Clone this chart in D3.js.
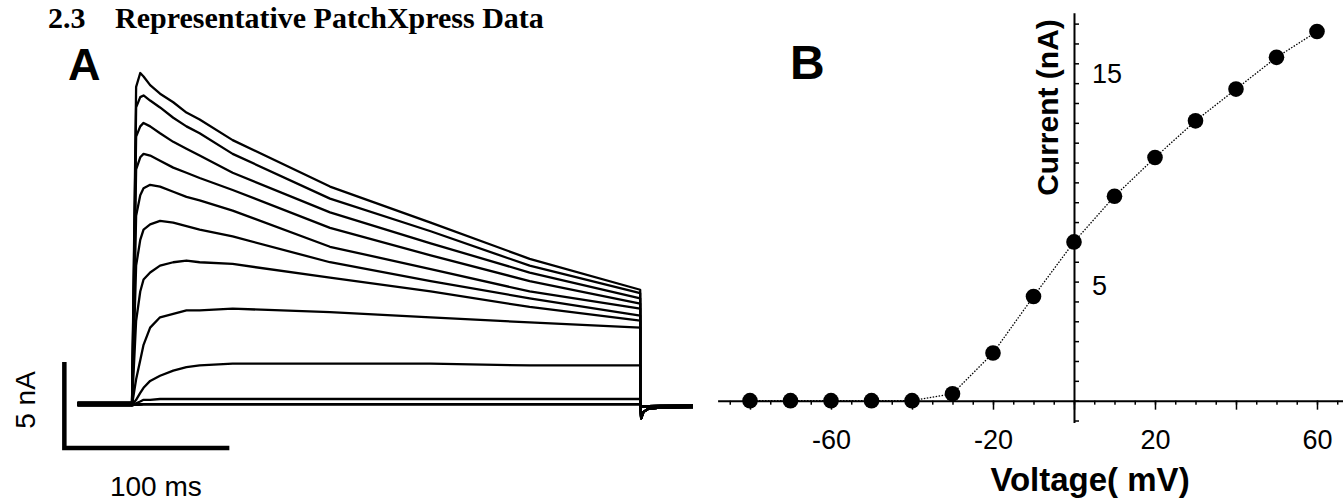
<!DOCTYPE html>
<html>
<head>
<meta charset="utf-8">
<script src="https://d3js.org/d3.v7.min.js"></script>
<style>
  body { margin: 0; background: #fff; }
  text { fill: #000; }
</style>
</head>
<body>
<div id="wrapper"></div>
<script>
// ---- panel A: current sweeps (ms, nA) ----
const sweepTimes = [0, 2.5, 5, 7, 11, 17, 25, 33, 41, 61, 120, 181, 241, 308]
const sweep60  = [0, 18.5, 19.3, 19.1, 18.6, 18.1, 17.6, 17.0, 16.6, 15.4, 12.7, 10.6, 8.5, 6.7]
const sweep50  = [0, 17.3, 17.9, 18.0, 17.7, 17.3, 16.7, 16.2, 15.8, 14.6, 12.0, 10.1, 8.1, 6.5]
const sweep40  = [0, 15.6, 16.2, 16.4, 16.2, 15.8, 15.3, 14.9, 14.5, 13.5, 11.2, 9.4, 7.7, 6.2]
const sweep30  = [0, 13.7, 14.4, 14.6, 14.5, 14.2, 13.8, 13.5, 13.2, 12.5, 10.3, 8.7, 7.2, 5.9]
const sweep20  = [0, 11.0, 12.2, 12.6, 12.8, 12.7, 12.4, 12.1, 11.9, 11.3, 9.2, 7.9, 6.6, 5.6]
const sweep10  = [0, 8.1, 9.6, 10.2, 10.5, 10.7, 10.6, 10.4, 10.2, 9.8, 8.3, 7.2, 6.2, 5.2]
const sweep0   = [0, 4.9, 6.6, 7.3, 7.7, 8.1, 8.3, 8.4, 8.3, 8.2, 7.4, 6.6, 5.7, 4.9]
const sweepM10 = [0, 1.5, 2.6, 3.5, 4.5, 5.1, 5.3, 5.5, 5.5, 5.6, 5.4, 5.1, 4.8, 4.5]
const sweepM20 = [0, 0.3, 0.7, 1.0, 1.4, 1.7, 2.0, 2.2, 2.3, 2.4, 2.4, 2.4, 2.3, 2.3]
const sweepM30 = [0, 0.1, 0.2, 0.3, 0.3, 0.35, 0.35, 0.35, 0.35, 0.35, 0.35, 0.35, 0.35, 0.35]
const sweepRest = [0, 0.02, 0.04, 0.05, 0.05, 0.05, 0.05, 0.05, 0.05, 0.05, 0.05, 0.05, 0.05, 0.05]
const holdTimes = [-33, 0]
const holdCurrentLow = [0, 0]
const holdCurrentHigh = [0.12, 0.12]
const tailTimes = [308, 308.6, 310, 313, 320, 340]
const tailCurrentBig = [0, -0.78, -0.4, -0.22, -0.15, -0.12]
const tailCurrentSmall = [0, -0.1, -0.08, -0.06, -0.05, -0.04]

// ---- panel B: I-V relation ----
const ivVoltage = [-80, -70, -60, -50, -40, -30, -20, -10, 0, 10, 20, 30, 40, 50, 60]
const ivCurrent = [0, 0, 0, 0, 0, 0.35, 2.4, 5.25, 8.0, 10.3, 12.25, 14.1, 15.7, 17.3, 18.6]
const xTickLabels = [-60, -20, 20, 60]
const yTickLabels = [5, 15]

function drawChart() {
  const dim = { width: 1343, height: 502 }

  const svg = d3.select("#wrapper")
    .append("svg")
    .attr("width", dim.width)
    .attr("height", dim.height)
    .style("font-family", "'Liberation Sans', Arial, sans-serif")

  // title
  const serif = "'Liberation Serif', 'Times New Roman', serif"
  svg.append("text")
    .attr("x", 48).attr("y", 28)
    .style("font-family", serif)
    .style("font-weight", "bold")
    .style("font-size", "30px")
    .text("2.3")
  svg.append("text")
    .attr("x", 115).attr("y", 28)
    .style("font-family", serif)
    .style("font-weight", "bold")
    .style("font-size", "30px")
    .text("Representative PatchXpress Data")

  // panel letters
  svg.append("text").attr("x", 68).attr("y", 80)
    .style("font-weight", "bold").style("font-size", "45px").text("A")
  svg.append("text").attr("x", 790).attr("y", 79)
    .style("font-weight", "bold").style("font-size", "48px").text("B")

  // ---------- panel A ----------
  const xA = d3.scaleLinear().domain([0, 100]).range([132, 297])
  const yA = d3.scaleLinear().domain([0, 5]).range([405, 319])

  const sweeps = [sweepRest, sweepRest, sweepRest, sweepRest, sweepRest,
    sweepM30, sweepM20, sweepM10, sweep0, sweep10, sweep20, sweep30, sweep40, sweep50, sweep60]

  const traceLine = d3.line()
    .x(d => xA(d[0]))
    .y(d => yA(d[1]))

  const chartA = svg.append("g")
  sweeps.forEach((s, n) => {
    const tail = n >= 8 ? tailCurrentBig : tailCurrentSmall
    const hold = n % 2 ? holdCurrentHigh : holdCurrentLow
    const pts = holdTimes.map((t, k) => [t, hold[k]])
      .concat(sweepTimes.map((t, k) => [t, s[k]]))
      .concat(tailTimes.map((t, k) => [t, tail[k]]))
    chartA.append("path")
      .attr("d", traceLine(pts))
      .attr("fill", "none")
      .attr("stroke", "#000")
      .attr("stroke-width", 2.3)
      .attr("stroke-linejoin", "round")
  })

  // scale bars: 5 nA and 100 ms
  const barT0 = -41, barI0 = -2.5
  chartA.append("path")
    .attr("d", `M${xA(barT0)},${yA(barI0 + 5)} V${yA(barI0)} H${xA(barT0 + 100)}`)
    .attr("fill", "none")
    .attr("stroke", "#000")
    .attr("stroke-width", 4.5)
    .attr("stroke-linejoin", "miter")

  chartA.append("text")
    .attr("transform", `translate(35,${yA(barI0 + 2.5) - 5}) rotate(-90)`)
    .attr("text-anchor", "middle")
    .style("font-size", "28px")
    .text("5 nA")
  chartA.append("text")
    .attr("x", xA(barT0 + 50) + 9).attr("y", 496)
    .attr("text-anchor", "middle")
    .style("font-size", "28px")
    .text("100 ms")

  // ---------- panel B ----------
  const xB = d3.scaleLinear().domain([-88, 66.3]).range([717.6, 1342.5])
  const yB = d3.scaleLinear().domain([-1.1, 19.55]).range([422.5, 12.7])

  const chartB = svg.append("g")

  // x axis: minor ticks every 5 mV, major every 20 mV
  const xMinor = chartB.append("g")
    .attr("transform", `translate(0,${yB(0)})`)
    .call(d3.axisBottom(xB)
      .tickValues(d3.range(-85, 66, 5))
      .tickSize(4).tickSizeOuter(0)
      .tickFormat(""))
  xMinor.select(".domain").attr("stroke-width", 2)
  xMinor.selectAll(".tick line").attr("stroke-width", 1.5)

  const xMajor = chartB.append("g")
    .attr("transform", `translate(0,${yB(0)})`)
    .call(d3.axisBottom(xB)
      .tickValues(d3.range(-80, 61, 20))
      .tickSize(9).tickPadding(20)
      .tickFormat(d => xTickLabels.includes(d) ? String(d) : ""))
  xMajor.select(".domain").remove()
  xMajor.selectAll(".tick line").attr("stroke-width", 1.5)
  xMajor.selectAll(".tick text")
    .attr("font-family", null)
    .attr("font-size", null)
    .style("font-size", "27px")
    .attr("fill", "#000")

  // y axis with ticks every 1 nA
  const yAxis = chartB.append("g")
    .attr("transform", `translate(${xB(0)},0)`)
    .call(d3.axisRight(yB)
      .tickValues(d3.range(-1, 20, 1))
      .tickSize(5).tickSizeOuter(0).tickPadding(13)
      .tickFormat(d => yTickLabels.includes(d) ? String(d) : ""))
  yAxis.select(".domain").attr("stroke-width", 2)
  yAxis.selectAll(".tick line").attr("stroke-width", 1.5)
  yAxis.selectAll(".tick text")
    .attr("font-family", null)
    .attr("font-size", null)
    .attr("dy", d => d > 10 ? "-0.75em" : "-0.25em")
    .style("font-size", "27px")
    .attr("fill", "#000")

  // dotted connecting line
  const ivLine = d3.line()
    .x((d, k) => xB(ivVoltage[k]))
    .y(d => yB(d))
  chartB.append("path")
    .attr("d", ivLine(ivCurrent))
    .attr("fill", "none")
    .attr("stroke", "#000")
    .attr("stroke-width", 1.3)
    .attr("stroke-dasharray", "1.5,1.5")

  // data points
  chartB.selectAll("circle")
    .data(ivCurrent)
    .join("circle")
    .attr("cx", (d, k) => xB(ivVoltage[k]))
    .attr("cy", d => yB(d))
    .attr("r", 7.8)
    .attr("fill", "#000")

  // axis titles
  chartB.append("text")
    .attr("x", 1090).attr("y", 491)
    .attr("text-anchor", "middle")
    .style("font-weight", "bold")
    .style("font-size", "33px")
    .text("Voltage( mV)")
  chartB.append("text")
    .attr("transform", "translate(1058,107.5) rotate(-90)")
    .attr("text-anchor", "middle")
    .style("font-weight", "bold")
    .style("font-size", "30px")
    .text("Current (nA)")
}
drawChart()
</script>
</body>
</html>
